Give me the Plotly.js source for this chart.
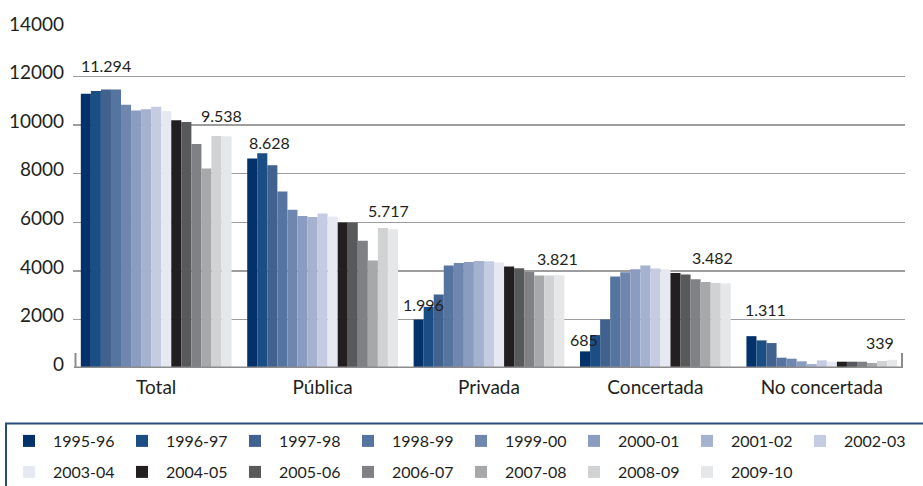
<!DOCTYPE html>
<html>
<head>
<meta charset="utf-8">
<script src="https://cdn.plot.ly/plotly-3.0.1.min.js"></script>
<style>html,body{margin:0;padding:0;background:#fff;}#chart{width:923px;height:486px;}</style>
</head>
<body>
<div id="chart"></div>
<script>
// ---- data ----
var categories = ['Total', 'Pública', 'Privada', 'Concertada', 'No concertada'];
var years = ['1995-96','1996-97','1997-98','1998-99','1999-00','2000-01','2001-02','2002-03',
             '2003-04','2004-05','2005-06','2006-07','2007-08','2008-09','2009-10'];
// values per category, one entry per school year
var totalVals       = [11294, 11405, 11470, 11470, 10842, 10608, 10650, 10760, 10583, 10198, 10131, 9228, 8214, 9557, 9538];
var publicaVals     = [8628, 8843, 8350, 7269, 6517, 6255, 6214, 6366, 6242, 5996, 5996, 5244, 4423, 5763, 5717];
var privadaVals     = [1996, 2517, 3026, 4217, 4325, 4366, 4407, 4394, 4340, 4176, 4107, 3955, 3807, 3807, 3821];
var concertadaVals  = [685, 1355, 2000, 3766, 3943, 4066, 4217, 4094, 4066, 3914, 3848, 3655, 3544, 3503, 3482];
var noConcertVals   = [1311, 1137, 1027, 424, 383, 275, 164, 315, 260, 260, 260, 260, 205, 288, 339];
var yTicks = [0, 2000, 4000, 6000, 8000, 10000, 12000, 14000];

// ---- styles ----
var colors = ['#03316a','#1b4e85','#41618f','#5674a0','#6f87ae','#8a9cc0','#a4b1cf','#c5cce1',
              '#e6e9f1','#231f20','#58595b','#808184','#a7a8aa','#d1d2d4','#e6e7e8'];
var labelStyle = {
  first: {dx: [20, 17, 5, -1.5, 14], gap: [22, 10, 9, 6, 21]},
  last:  {dx: [-5, -4, -2, -13, -12], gap: [15, 13, 11, 20, 11]}
};
var BARGAP = 0.094;
var FONT = 'Lato, "Liberation Sans", sans-serif';
var TXT = '#231f20';

var series = [totalVals, publicaVals, privadaVals, concertadaVals, noConcertVals];

var traces = years.map(function (yr, i) {
  return {
    type: 'bar',
    name: yr,
    x: categories,
    y: series.map(function (s) { return s[i]; }),
    marker: {color: colors[i], line: {width: 0}},
    legend: i < 8 ? 'legend' : 'legend2',
    hoverinfo: 'x+y+name'
  };
});

function fmt(v) { return String(v).replace(/\B(?=(\d{3})+(?!\d))/g, '.'); }

var annotations = [];
var n = years.length;
categories.forEach(function (c, ci) {
  [['first', 0], ['last', n - 1]].forEach(function (p) {
    var idx = p[1], st = labelStyle[p[0]];
    var v = series[ci][idx];
    annotations.push({
      x: ci + (idx - (n - 1) / 2) / n * (1 - BARGAP),
      y: v, xref: 'x', yref: 'y',
      text: fmt(v), showarrow: false,
      xanchor: 'center', yanchor: 'middle',
      xshift: st.dx[ci], yshift: st.gap[ci] + 6,
      font: {family: FONT, size: 16, color: TXT}
    });
  });
});

var L = 73, R = 18, T = 28, B = 118;
var plotW = 923 - L - R, plotH = 486 - T - B;
function px(xp) { return (xp - L) / plotW; }
function py(yp) { return (486 - B - yp) / plotH; }

var shapes = [
  // x axis line over the bars
  {type: 'line', xref: 'paper', yref: 'y', x0: px(74), x1: px(903), y0: 0, y1: 0,
   line: {color: '#8c8c8c', width: 3}, layer: 'above'},
  // axis end ticks
  {type: 'line', xref: 'paper', yref: 'y', ysizemode: 'pixel', yanchor: 0,
   x0: px(75.5), x1: px(75.5), y0: 0, y1: 15, line: {color: '#8c8c8c', width: 2}, layer: 'above'},
  {type: 'line', xref: 'paper', yref: 'y', ysizemode: 'pixel', yanchor: 0,
   x0: px(902), x1: px(902), y0: 0, y1: 15, line: {color: '#8c8c8c', width: 2}, layer: 'above'},
  // legend frame
  {type: 'rect', xref: 'paper', yref: 'paper', x0: px(6), x1: px(935), y0: py(423.5), y1: py(500),
   line: {color: '#2a4a7c', width: 2}, fillcolor: 'rgba(0,0,0,0)', layer: 'below'}
];

var legendCommon = {
  orientation: 'h', xanchor: 'left', yanchor: 'middle',
  itemwidth: 38,
  entrywidth: 60, entrywidthmode: 'pixels',
  font: {family: FONT, size: 16, color: TXT},
  bgcolor: 'rgba(0,0,0,0)', borderwidth: 0, traceorder: 'normal'
};

var layout = {
  width: 923, height: 486,
  margin: {l: L, r: R, t: T, b: B, pad: 0, autoexpand: false},
  paper_bgcolor: '#ffffff', plot_bgcolor: '#ffffff',
  font: {family: FONT, color: TXT},
  barmode: 'group', bargap: BARGAP, bargroupgap: 0,
  showlegend: true,
  legend: Object.assign({}, legendCommon, {x: px(5), y: py(441)}),
  legend2: Object.assign({}, legendCommon, {x: px(5), y: py(472)}),
  xaxis: {
    type: 'category', showgrid: false, zeroline: false, showline: false, ticks: '',
    ticklabelstandoff: 6,
    tickfont: {family: FONT, size: 19, color: TXT}, fixedrange: true
  },
  yaxis: {
    range: [0, 14000], tickvals: yTicks, ticktext: yTicks.map(String),
    showgrid: true, gridcolor: '#9d9d9d', gridwidth: 1.5,
    zeroline: false, showline: false, ticks: '',
    ticklabelshift: -4, ticklabelstandoff: 8,
    tickfont: {family: FONT, size: 19, color: TXT}, fixedrange: true
  },
  annotations: annotations,
  shapes: shapes
};

Plotly.newPlot('chart', traces, layout, {displayModeBar: false, staticPlot: true});
</script>
</body>
</html>
